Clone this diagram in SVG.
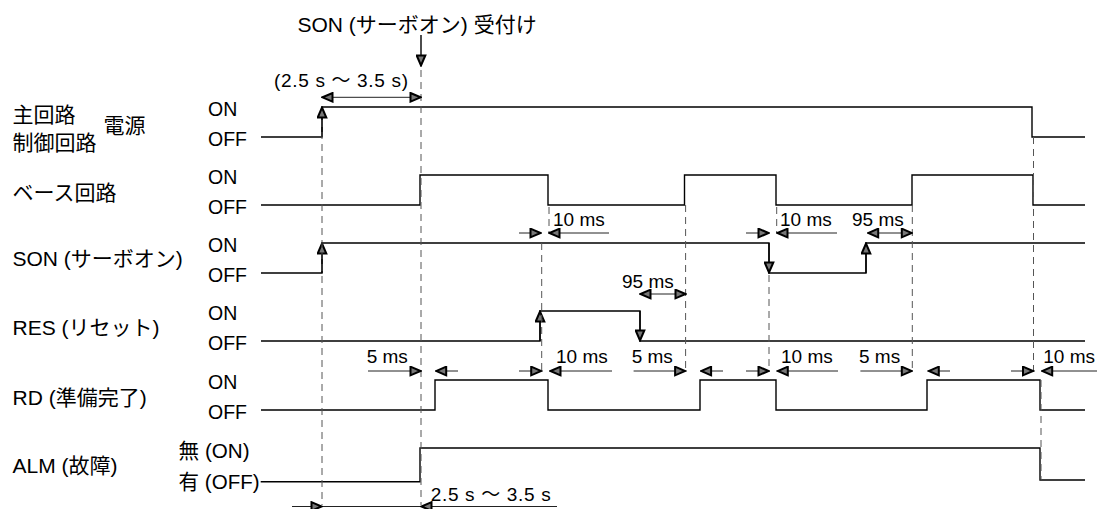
<svg xmlns="http://www.w3.org/2000/svg" width="1097" height="509" viewBox="0 0 1097 509">
<style>
text{font-family:"Liberation Sans","Noto Sans CJK JP",sans-serif;fill:#000}
.lb{font-size:21px}
.st{font-size:19.5px}
.ms{font-size:19px}
.wave{fill:none;stroke:#000;stroke-width:1.4}
.dash{fill:none;stroke:#555;stroke-width:1;stroke-dasharray:7 5}
.dim{fill:none;stroke:#222;stroke-width:1}
.tr{fill:none;stroke:#000;stroke-width:1.4}
</style>
<defs>
<marker id="ah" viewBox="0 0 13 11" refX="12" refY="5.5" markerWidth="13" markerHeight="11" orient="auto-start-reverse" markerUnits="userSpaceOnUse">
<path d="M1.5,1.2 L11.5,5.5 L1.5,9.8 z" fill="#777" stroke="#000" stroke-width="2" stroke-linejoin="miter"/>
</marker>
</defs>

<g id="title">
<text class="lb" x="297.5" y="32">SON (サーボオン) 受付け</text>
<path class="tr" d="M421,35 V66" marker-end="url(#ah)"/>
</g>

<g id="row-power">
<text class="lb" x="12.5" y="122">主回路</text>
<text class="lb" x="12.5" y="150">制御回路</text>
<text class="lb" x="103.6" y="133">電源</text>
<text class="st" x="208" y="116">ON</text>
<text class="st" x="208" y="146">OFF</text>
<path class="wave" d="M261,137 H322 V107 H1032 V137 H1085"/>
<path class="tr" d="M322,137 V107" marker-end="url(#ah)"/>
</g>

<g id="row-base">
<text class="lb" x="12.5" y="200">ベース回路</text>
<text class="st" x="208" y="184">ON</text>
<text class="st" x="208" y="214">OFF</text>
<path class="wave" d="M261,205 H420 V175 H548 V205 H684.5 V175 H776 V205 H912 V175 H1033 V205 H1085"/>
</g>

<g id="row-son">
<text class="lb" x="12.5" y="266">SON (サーボオン)</text>
<text class="st" x="208" y="252">ON</text>
<text class="st" x="208" y="282">OFF</text>
<path class="wave" d="M261,273 H322 V243 H769 V273 H866 V243 H1085"/>
<path class="tr" d="M322,273 V243" marker-end="url(#ah)"/>
<path class="tr" d="M769,243 V273" marker-end="url(#ah)"/>
<path class="tr" d="M866,273 V243" marker-end="url(#ah)"/>
</g>

<g id="row-res">
<text class="lb" x="12.5" y="335">RES (リセット)</text>
<text class="st" x="208" y="320">ON</text>
<text class="st" x="208" y="350">OFF</text>
<path class="wave" d="M261,341 H540 V311 H640 V341 H1085"/>
<path class="tr" d="M540,341 V311" marker-end="url(#ah)"/>
<path class="tr" d="M640,311 V341" marker-end="url(#ah)"/>
</g>

<g id="row-rd">
<text class="lb" x="12.5" y="405">RD (準備完了)</text>
<text class="st" x="208" y="389">ON</text>
<text class="st" x="208" y="419">OFF</text>
<path class="wave" d="M261,410 H435 V380 H548 V410 H700 V380 H776 V410 H927 V380 H1040 V410 H1085"/>
</g>

<g id="row-alm">
<text class="lb" x="12.5" y="473">ALM (故障)</text>
<text class="lb" x="178.6" y="458" textLength="71" lengthAdjust="spacingAndGlyphs">無 (ON)</text>
<text class="lb" x="178.6" y="489" textLength="81" lengthAdjust="spacingAndGlyphs">有 (OFF)</text>
<path class="wave" d="M260.7,481.7 H420 V448 H1040 V480 H1085"/>
</g>

<g id="connectors">
<path class="dash" d="M322,120 V505"/>
<path class="dash" d="M421,70 V505"/>
<path class="dash" d="M541.7,243 V372"/>
<path class="dash" d="M549,207 V233"/>
<path class="dash" d="M685.6,205 V372"/>
<path class="dash" d="M769,275 V372"/>
<path class="dash" d="M776.7,207 V233"/>
<path class="dash" d="M912.3,205 V372"/>
<path class="dash" d="M1033.5,137 V372"/>
<path class="dash" d="M1041,380 V480"/>

<path class="dim" d="M322,97.3 H421" marker-start="url(#ah)" marker-end="url(#ah)"/>
<text class="ms" x="274" y="87" textLength="134" lengthAdjust="spacing">(2.5 s ～ 3.5 s)</text>

<path class="dim" d="M519,233 H541" marker-end="url(#ah)"/>
<path class="dim" d="M609,233 H549" marker-end="url(#ah)"/>
<text class="ms" x="553" y="226">10 ms</text>
<path class="dim" d="M746,233 H769" marker-end="url(#ah)"/>
<path class="dim" d="M837,233 H777" marker-end="url(#ah)"/>
<text class="ms" x="780" y="226">10 ms</text>
<path class="dim" d="M867.7,233 H912.3" marker-start="url(#ah)" marker-end="url(#ah)"/>
<text class="ms" x="852" y="226">95 ms</text>

<path class="dim" d="M640,294 H686" marker-start="url(#ah)" marker-end="url(#ah)"/>
<text class="ms" x="622" y="288">95 ms</text>

<path class="dim" d="M368,371 H421" marker-end="url(#ah)"/>
<path class="dim" d="M458,371 H435.7" marker-end="url(#ah)"/>
<text class="ms" x="366.7" y="363">5 ms</text>
<path class="dim" d="M519,371 H541.7" marker-end="url(#ah)"/>
<path class="dim" d="M612,371 H550" marker-end="url(#ah)"/>
<text class="ms" x="556" y="363">10 ms</text>
<path class="dim" d="M633.6,371 H685.6" marker-end="url(#ah)"/>
<path class="dim" d="M723,371 H700.6" marker-end="url(#ah)"/>
<text class="ms" x="631.7" y="363">5 ms</text>
<path class="dim" d="M746,371 H769" marker-end="url(#ah)"/>
<path class="dim" d="M838,371 H777.3" marker-end="url(#ah)"/>
<text class="ms" x="781" y="363">10 ms</text>
<path class="dim" d="M860.4,371 H912.3" marker-end="url(#ah)"/>
<path class="dim" d="M950,371 H928.3" marker-end="url(#ah)"/>
<text class="ms" x="859" y="363">5 ms</text>
<path class="dim" d="M1011,371 H1033.5" marker-end="url(#ah)"/>
<path class="dim" d="M1097,371 H1041.7" marker-end="url(#ah)"/>
<text class="ms" x="1043.3" y="363">10 ms</text>

<path class="dim" d="M322,506.5 H421"/>
<path class="dim" d="M292,506.5 H322" marker-end="url(#ah)"/>
<path class="dim" d="M557,506.5 H421" marker-end="url(#ah)"/>
<text class="ms" x="430.7" y="501" textLength="120" lengthAdjust="spacing">2.5 s ～ 3.5 s</text>
</g>
</svg>
